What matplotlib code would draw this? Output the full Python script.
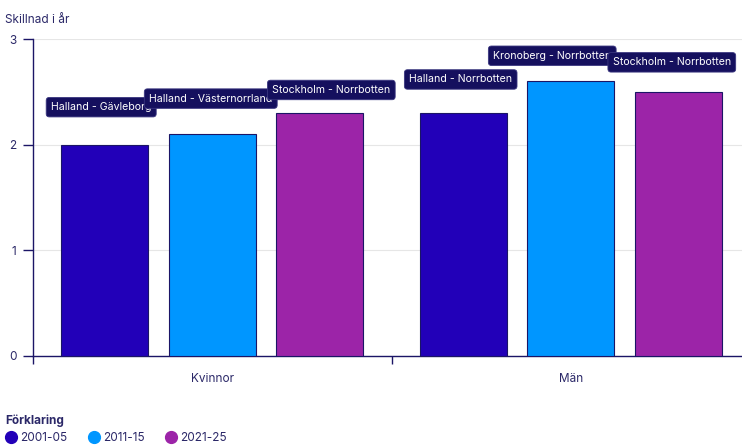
import matplotlib
matplotlib.use("Agg")
import matplotlib.pyplot as plt
from matplotlib.lines import Line2D
import numpy as np

plt.rcParams['font.family'] = ['Inter', 'DejaVu Sans']

categories = ["Kvinnor", "Män"]
periods = ["2001-05", "2011-15", "2021-25"]
values = {
    "2001-05": [2.0, 2.3],
    "2011-15": [2.1, 2.6],
    "2021-25": [2.3, 2.5],
}
region_labels = {
    "2001-05": ["Halland - Gävleborg", "Halland - Norrbotten"],
    "2011-15": ["Halland - Västernorrland", "Kronoberg - Norrbotten"],
    "2021-25": ["Stockholm - Norrbotten", "Stockholm - Norrbotten"],
}
y_ticks = [0, 1, 2, 3]

colors = {"2001-05": "#2200b8", "2011-15": "#0096ff", "2021-25": "#9c24a8"}
navy = "#1b1566"
text_col = "#2b2868"
label_bg = "#15105e"

# label offsets (pixels) chosen to keep boxes from colliding
label_offsets = {
    "2001-05": [(-3.5, 37.5), (-2.5, 33.5)],
    "2011-15": [(-1.5, 35.5), (-18.5, 25.5)],
    "2021-25": [(11.5, 23), (-6.5, 29.5)],
}

fig = plt.figure(figsize=(7.42, 4.45), dpi=100)
ax = fig.add_axes([33 / 742, 1 - 356 / 445, (750 - 33) / 742, (356 - 39) / 445])

x = np.arange(len(categories))
width = 0.243
spacing = 0.3
for i, p in enumerate(periods):
    xs = x + (i - 1) * spacing
    ax.bar(xs, values[p], width=width, color=colors[p], edgecolor=navy,
           linewidth=0.8, zorder=3)
    for j, (xv, v) in enumerate(zip(xs, values[p])):
        dx, dy = label_offsets[p][j]
        ax.annotate(region_labels[p][j], xy=(xv, v), xytext=(dx, dy),
                    textcoords="offset pixels", ha="center", va="center",
                    fontsize=7.6, color="white", zorder=5,
                    bbox=dict(boxstyle="round,pad=0.45,rounding_size=0.3",
                              fc=label_bg, ec="#3b3780", lw=0.6))

ax.set_xlim(-0.5, 1.5)
ax.set_ylim(0, 3)
ax.set_yticks(y_ticks)
ax.set_yticklabels([str(t) for t in y_ticks], fontsize=8.5, color=text_col)
ax.yaxis.grid(True, color="#e6e6e6", lw=0.8, zorder=0)
ax.set_axisbelow(True)

ax.set_xticks([-0.5, 0.5, 1.5])
ax.set_xticklabels([])
ax.set_xticks(x, minor=True)
ax.set_xticklabels(categories, minor=True, fontsize=8.5, color=text_col)
ax.tick_params(axis="x", which="minor", length=0, pad=12)
ax.tick_params(axis="x", which="major", length=6, color=navy, width=1)
ax.tick_params(axis="y", length=7, color=navy, width=1, pad=5)

for s in ["top", "right"]:
    ax.spines[s].set_visible(False)
ax.spines["left"].set_color(navy)
ax.spines["bottom"].set_color(navy)
ax.spines["left"].set_linewidth(1)
ax.spines["bottom"].set_linewidth(1)

fig.text(5 / 742, 1 - 20 / 445, "Skillnad i år", fontsize=8.5, color=text_col,
         ha="left", va="center")

fig.text(5 / 742, 1 - 421 / 445, "Förklaring", fontsize=8.5, color=text_col,
         ha="left", va="center", fontweight="bold")
handles = [Line2D([], [], marker="o", linestyle="", markersize=8.5,
                  markerfacecolor=colors[p], markeredgecolor=colors[p])
           for p in periods]
leg = fig.legend(handles, periods, loc="center left",
                 bbox_to_anchor=(-2 / 742, 1 - 438 / 445), ncol=3, frameon=False,
                 fontsize=8.5, handletextpad=0.2, columnspacing=1.6,
                 handlelength=1.2, borderpad=0)
for t in leg.get_texts():
    t.set_color(text_col)

fig.savefig("out.png", dpi=100)
